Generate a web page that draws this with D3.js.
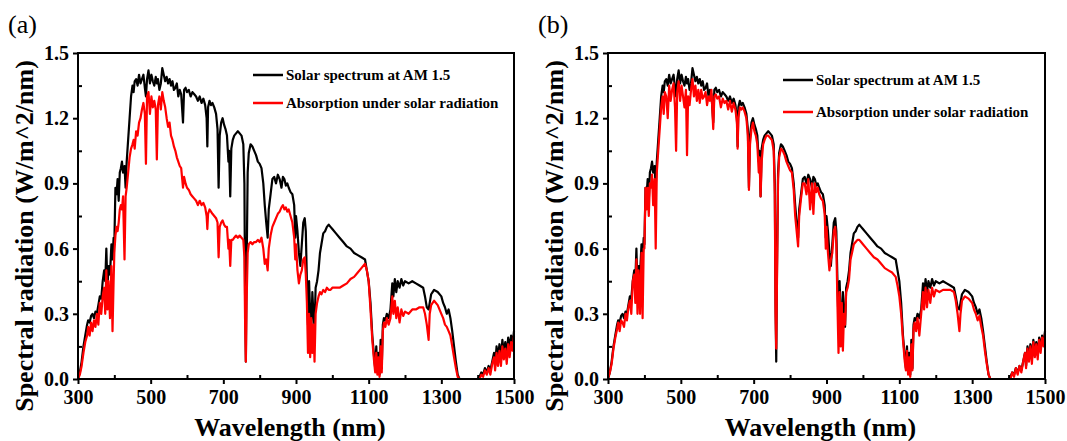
<!DOCTYPE html>
<html>
<head>
<meta charset="utf-8">
<script src="https://cdn.jsdelivr.net/npm/d3@7"></script>
<style>
  body { margin: 0; background: #fff; }
  svg { display: block; font-family: "Liberation Serif", "Times New Roman", serif; }
</style>
</head>
<body>
<svg id="chart" width="1067" height="441"></svg>
<script>
// wavelength grid (nm)
const wavelength = [
  300,305,310,315,320,325,328,332,336,340,
  344,348,352,356,360,364,368,372,375,378,
  381,384,388,392,395,398,400,403,406,409,
  412,415,418,421,424,428,431,434,438,442,
  446,450,453,456,460,464,468,472,476,480,
  484,487,490,494,498,502,506,510,514,517,
  520,524,528,532,536,540,544,548,552,556,
  560,564,568,572,576,580,584,589,592,596,
  600,605,610,615,620,625,630,635,640,645,
  650,654,656,658,662,666,670,675,680,684,
  687,690,694,698,702,706,710,714,716,719,
  722,726,730,735,740,745,750,755,758,760,
  762,764,767,770,775,780,785,790,795,800,
  805,810,814,818,822,825,830,835,840,845,
  850,855,860,864,868,872,876,880,885,890,
  895,898,900,904,908,912,916,920,924,927,
  930,933,936,939,942,945,948,951,954,958,
  962,966,970,975,980,985,990,995,1000,1010,
  1020,1030,1040,1050,1060,1070,1080,1090,1095,1100,
  1105,1110,1115,1118,1121,1124,1127,1130,1133,1136,
  1139,1142,1146,1150,1155,1160,1165,1168,1172,1176,
  1180,1185,1190,1195,1200,1210,1220,1230,1240,1250,
  1255,1260,1265,1268,1272,1276,1280,1290,1300,1305,
  1310,1315,1320,1325,1330,1335,1340,1345,1350,1400,
  1405,1410,1415,1420,1425,1430,1435,1440,1445,1448,
  1452,1456,1460,1464,1468,1472,1476,1480,1484,1488,
  1492,1496,1500
];

// Solar spectrum at AM 1.5 (W/m^2/nm)
const solar = [
  0,0.03,0.08,0.15,0.2,0.25,0.27,0.26,0.29,0.3,
  0.28,0.31,0.3,0.34,0.38,0.37,0.45,0.5,0.45,0.6,
  0.42,0.52,0.48,0.62,0.55,0.65,0.62,0.88,0.85,0.92,
  0.82,0.95,0.97,1.0,0.95,0.98,0.88,1.0,1.1,1.2,
  1.3,1.35,1.32,1.37,1.38,1.35,1.4,1.36,1.38,1.4,
  1.34,1.3,1.38,1.42,1.36,1.4,1.37,1.35,1.39,1.36,
  1.38,1.33,1.36,1.43,1.4,1.37,1.39,1.36,1.38,1.35,
  1.37,1.33,1.34,1.36,1.3,1.33,1.31,1.18,1.33,1.34,
  1.32,1.33,1.3,1.32,1.31,1.3,1.28,1.3,1.27,1.29,
  1.26,1.2,1.07,1.25,1.28,1.26,1.27,1.25,1.22,1.15,
  0.88,1.12,1.18,1.2,1.17,1.15,1.12,1.0,1.05,0.84,
  1.06,1.1,1.12,1.13,1.14,1.13,1.12,1.08,0.9,0.35,
  0.08,0.5,0.95,1.04,1.08,1.07,1.05,1.03,1.0,0.99,
  0.97,0.9,0.8,0.72,0.65,0.78,0.85,0.92,0.93,0.9,
  0.94,0.92,0.88,0.93,0.92,0.89,0.9,0.88,0.86,0.85,
  0.8,0.65,0.75,0.68,0.58,0.52,0.62,0.72,0.74,0.68,
  0.45,0.25,0.45,0.3,0.22,0.4,0.3,0.24,0.42,0.45,
  0.5,0.58,0.62,0.67,0.68,0.7,0.71,0.7,0.69,0.67,
  0.65,0.63,0.61,0.6,0.58,0.57,0.56,0.55,0.5,0.45,
  0.35,0.2,0.1,0.05,0.15,0.03,0.12,0.02,0.18,0.05,
  0.25,0.28,0.27,0.3,0.28,0.32,0.44,0.38,0.46,0.4,
  0.45,0.42,0.46,0.43,0.45,0.44,0.45,0.44,0.43,0.42,
  0.38,0.33,0.32,0.35,0.39,0.4,0.41,0.4,0.38,0.35,
  0.33,0.3,0.32,0.28,0.22,0.15,0.08,0.02,0,0,
  0.01,0.03,0.02,0.05,0.03,0.06,0.04,0.08,0.12,0.06,
  0.15,0.1,0.16,0.09,0.18,0.12,0.17,0.11,0.19,0.14,
  0.2,0.16,0.22
];

// absorption under solar radiation, panel (a)
const absorbA = [
  0,0.02,0.06,0.12,0.17,0.2,0.24,0.2,0.26,0.22,
  0.27,0.24,0.3,0.25,0.35,0.3,0.38,0.42,0.3,0.5,
  0.32,0.45,0.28,0.52,0.22,0.45,0.58,0.66,0.7,0.68,
  0.72,0.78,0.8,0.78,0.84,0.55,0.84,0.88,0.95,1.02,
  1.06,1.08,1.1,1.06,1.14,1.12,1.18,1.2,1.24,1.27,
  1.22,0.99,1.3,1.32,1.22,1.3,1.25,1.28,1.24,1.01,
  1.26,1.3,1.24,1.32,1.28,1.25,1.2,1.16,1.18,1.12,
  1.1,1.07,1.05,1.02,1.0,0.98,0.97,0.88,0.93,0.9,
  0.88,0.87,0.85,0.84,0.83,0.82,0.8,0.82,0.8,0.81,
  0.79,0.75,0.69,0.76,0.78,0.77,0.76,0.75,0.74,0.72,
  0.56,0.7,0.72,0.73,0.71,0.7,0.7,0.6,0.64,0.52,
  0.64,0.64,0.65,0.66,0.65,0.66,0.65,0.64,0.56,0.25,
  0.08,0.35,0.58,0.62,0.63,0.62,0.63,0.63,0.64,0.63,
  0.65,0.6,0.53,0.55,0.5,0.6,0.66,0.7,0.72,0.74,
  0.76,0.77,0.79,0.8,0.78,0.79,0.77,0.78,0.75,0.72,
  0.65,0.55,0.62,0.5,0.44,0.48,0.5,0.55,0.56,0.48,
  0.35,0.12,0.3,0.1,0.28,0.12,0.25,0.08,0.3,0.35,
  0.38,0.4,0.39,0.41,0.4,0.42,0.41,0.41,0.42,0.42,
  0.42,0.43,0.44,0.46,0.47,0.49,0.51,0.53,0.5,0.45,
  0.32,0.18,0.08,0.03,0.12,0.02,0.1,0.01,0.15,0.03,
  0.22,0.26,0.24,0.28,0.25,0.28,0.38,0.3,0.36,0.28,
  0.33,0.26,0.32,0.29,0.31,0.3,0.32,0.32,0.33,0.33,
  0.3,0.25,0.18,0.3,0.34,0.35,0.36,0.34,0.3,0.28,
  0.25,0.24,0.22,0.2,0.15,0.1,0.05,0.01,0,0,
  0,0.02,0.01,0.04,0.02,0.05,0.02,0.07,0.1,0.04,
  0.12,0.06,0.13,0.06,0.15,0.09,0.14,0.07,0.16,0.1,
  0.17,0.13,0.2
];

// absorption under solar radiation, panel (b)
const absorbB = [
  0,0.03,0.07,0.14,0.19,0.23,0.26,0.22,0.27,0.26,
  0.24,0.3,0.27,0.33,0.36,0.3,0.45,0.48,0.35,0.55,
  0.3,0.5,0.3,0.58,0.28,0.6,0.6,0.88,0.78,0.88,
  0.75,0.9,0.88,0.94,0.8,0.92,0.6,0.95,1.05,1.15,
  1.25,1.3,1.22,1.32,1.3,1.2,1.35,1.28,1.33,1.36,
  1.25,1.05,1.32,1.37,1.28,1.35,1.3,1.25,1.33,1.03,
  1.3,1.26,1.33,1.38,1.3,1.35,1.28,1.33,1.27,1.33,
  1.29,1.3,1.32,1.26,1.3,1.28,1.33,1.15,1.3,1.31,
  1.29,1.3,1.25,1.29,1.27,1.28,1.24,1.28,1.23,1.27,
  1.24,1.18,1.06,1.2,1.25,1.24,1.25,1.23,1.2,1.12,
  0.87,1.08,1.15,1.18,1.14,1.12,1.08,0.95,1.02,0.84,
  1.0,1.08,1.1,1.12,1.12,1.11,1.1,1.05,0.85,0.3,
  0.14,0.45,0.92,1.02,1.06,1.05,1.03,1.0,0.98,0.96,
  0.95,0.87,0.75,0.68,0.61,0.75,0.83,0.9,0.9,0.85,
  0.92,0.78,0.9,0.76,0.9,0.86,0.88,0.85,0.83,0.82,
  0.76,0.6,0.7,0.58,0.5,0.55,0.58,0.68,0.7,0.62,
  0.35,0.12,0.4,0.15,0.35,0.13,0.3,0.25,0.4,0.42,
  0.46,0.55,0.58,0.62,0.63,0.64,0.64,0.63,0.62,0.6,
  0.58,0.56,0.55,0.53,0.51,0.5,0.49,0.47,0.43,0.38,
  0.3,0.18,0.08,0.04,0.13,0.02,0.1,0.01,0.16,0.04,
  0.23,0.26,0.22,0.28,0.2,0.3,0.4,0.32,0.42,0.33,
  0.41,0.35,0.42,0.38,0.41,0.4,0.41,0.41,0.41,0.4,
  0.36,0.3,0.22,0.3,0.36,0.37,0.38,0.37,0.35,0.32,
  0.3,0.27,0.29,0.24,0.2,0.13,0.07,0.02,0,0,
  0,0.03,0.01,0.05,0.02,0.06,0.03,0.08,0.12,0.05,
  0.14,0.08,0.15,0.07,0.17,0.1,0.16,0.09,0.18,0.12,
  0.19,0.15,0.21
];

const xTicks = [300, 500, 700, 900, 1100, 1300, 1500];
const xMinor = [400, 600, 800, 1000, 1200, 1400];
const yTicks = [0, 0.3, 0.6, 0.9, 1.2, 1.5];
const yMinor = [0.15, 0.45, 0.75, 1.05, 1.35];
const legendLabels = ["Solar spectrum at AM 1.5", "Absorption under solar radiation"];

const svg = d3.select('#chart');

function drawPanel(opts) {
    const { left, right, top, bottom, tag, absorb, legendX, legendY, legendGap } = opts;

    const x = d3.scaleLinear().domain([300, 1500]).range([left, right]);
    const y = d3.scaleLinear().domain([0, 1.5]).range([bottom, top]);

    const g = svg.append('g');

    const line = (vals) => d3.line()
        .x((d, i) => x(wavelength[i]))
        .y(d => y(d))(vals);

    g.append('path')
        .attr('d', line(solar))
        .attr('fill', 'none')
        .attr('stroke', '#000')
        .attr('stroke-width', 2.2)
        .attr('stroke-linejoin', 'round');

    g.append('path')
        .attr('d', line(absorb))
        .attr('fill', 'none')
        .attr('stroke', '#ff0000')
        .attr('stroke-width', 2.2)
        .attr('stroke-linejoin', 'round');

    // frame
    g.append('rect')
        .attr('x', left).attr('y', top)
        .attr('width', right - left).attr('height', bottom - top)
        .attr('fill', 'none').attr('stroke', '#000').attr('stroke-width', 2);

    // bottom axis, major out / minor in
    const xAxis = g.append('g')
        .attr('transform', `translate(0,${bottom})`)
        .call(d3.axisBottom(x).tickValues(xTicks).tickSize(5).tickPadding(6).tickFormat(d3.format('d')));
    xAxis.select('.domain').remove();
    g.append('g')
        .attr('transform', `translate(0,${bottom})`)
        .call(d3.axisTop(x).tickValues(xMinor).tickSize(4).tickFormat(''))
        .select('.domain').remove();

    // left axis
    const yAxis = g.append('g')
        .attr('transform', `translate(${left},0)`)
        .call(d3.axisLeft(y).tickValues(yTicks).tickSize(5).tickPadding(4).tickFormat(d3.format('.1f')));
    yAxis.select('.domain').remove();
    g.append('g')
        .attr('transform', `translate(${left},0)`)
        .call(d3.axisRight(y).tickValues(yMinor).tickSize(4).tickFormat(''))
        .select('.domain').remove();

    g.selectAll('.tick line').attr('stroke', '#000').attr('stroke-width', 2);
    g.selectAll('.tick text')
        .attr('fill', '#000')
        .style('font-family', '"Liberation Serif", serif')
        .style('font-size', '20px')
        .style('font-weight', 'bold');

    // axis titles
    g.append('text')
        .attr('x', (left + right) / 2 - 6)
        .attr('y', 436)
        .attr('text-anchor', 'middle')
        .style('font-size', '26px')
        .style('font-weight', 'bold')
        .text('Wavelength (nm)');

    g.append('text')
        .attr('transform', `translate(${left - 45},${236}) rotate(-90)`)
        .attr('text-anchor', 'middle')
        .style('font-size', '26px')
        .style('font-weight', 'bold')
        .text('Spectral radiation (W/m^2/nm)');

    g.append('text')
        .attr('x', left - 70)
        .attr('y', 33)
        .style('font-size', '26px')
        .text(tag);

    // legend
    const colors = ['#000', '#ff0000'];
    legendLabels.forEach((label, i) => {
        const ly = legendY + i * legendGap;
        g.append('line')
            .attr('x1', legendX).attr('x2', legendX + 30)
            .attr('y1', ly).attr('y2', ly)
            .attr('stroke', colors[i]).attr('stroke-width', 2.5);
        g.append('text')
            .attr('x', legendX + 33)
            .attr('y', ly + 5)
            .style('font-size', '15px')
            .style('font-weight', 'bold')
            .text(label);
    });
}

drawPanel({ left: 78, right: 514, top: 53, bottom: 379, tag: '(a)', absorb: absorbA,
            legendX: 253, legendY: 75, legendGap: 28 });
drawPanel({ left: 608, right: 1045, top: 53, bottom: 379, tag: '(b)', absorb: absorbB,
            legendX: 783, legendY: 80, legendGap: 32 });
</script>
</body>
</html>
